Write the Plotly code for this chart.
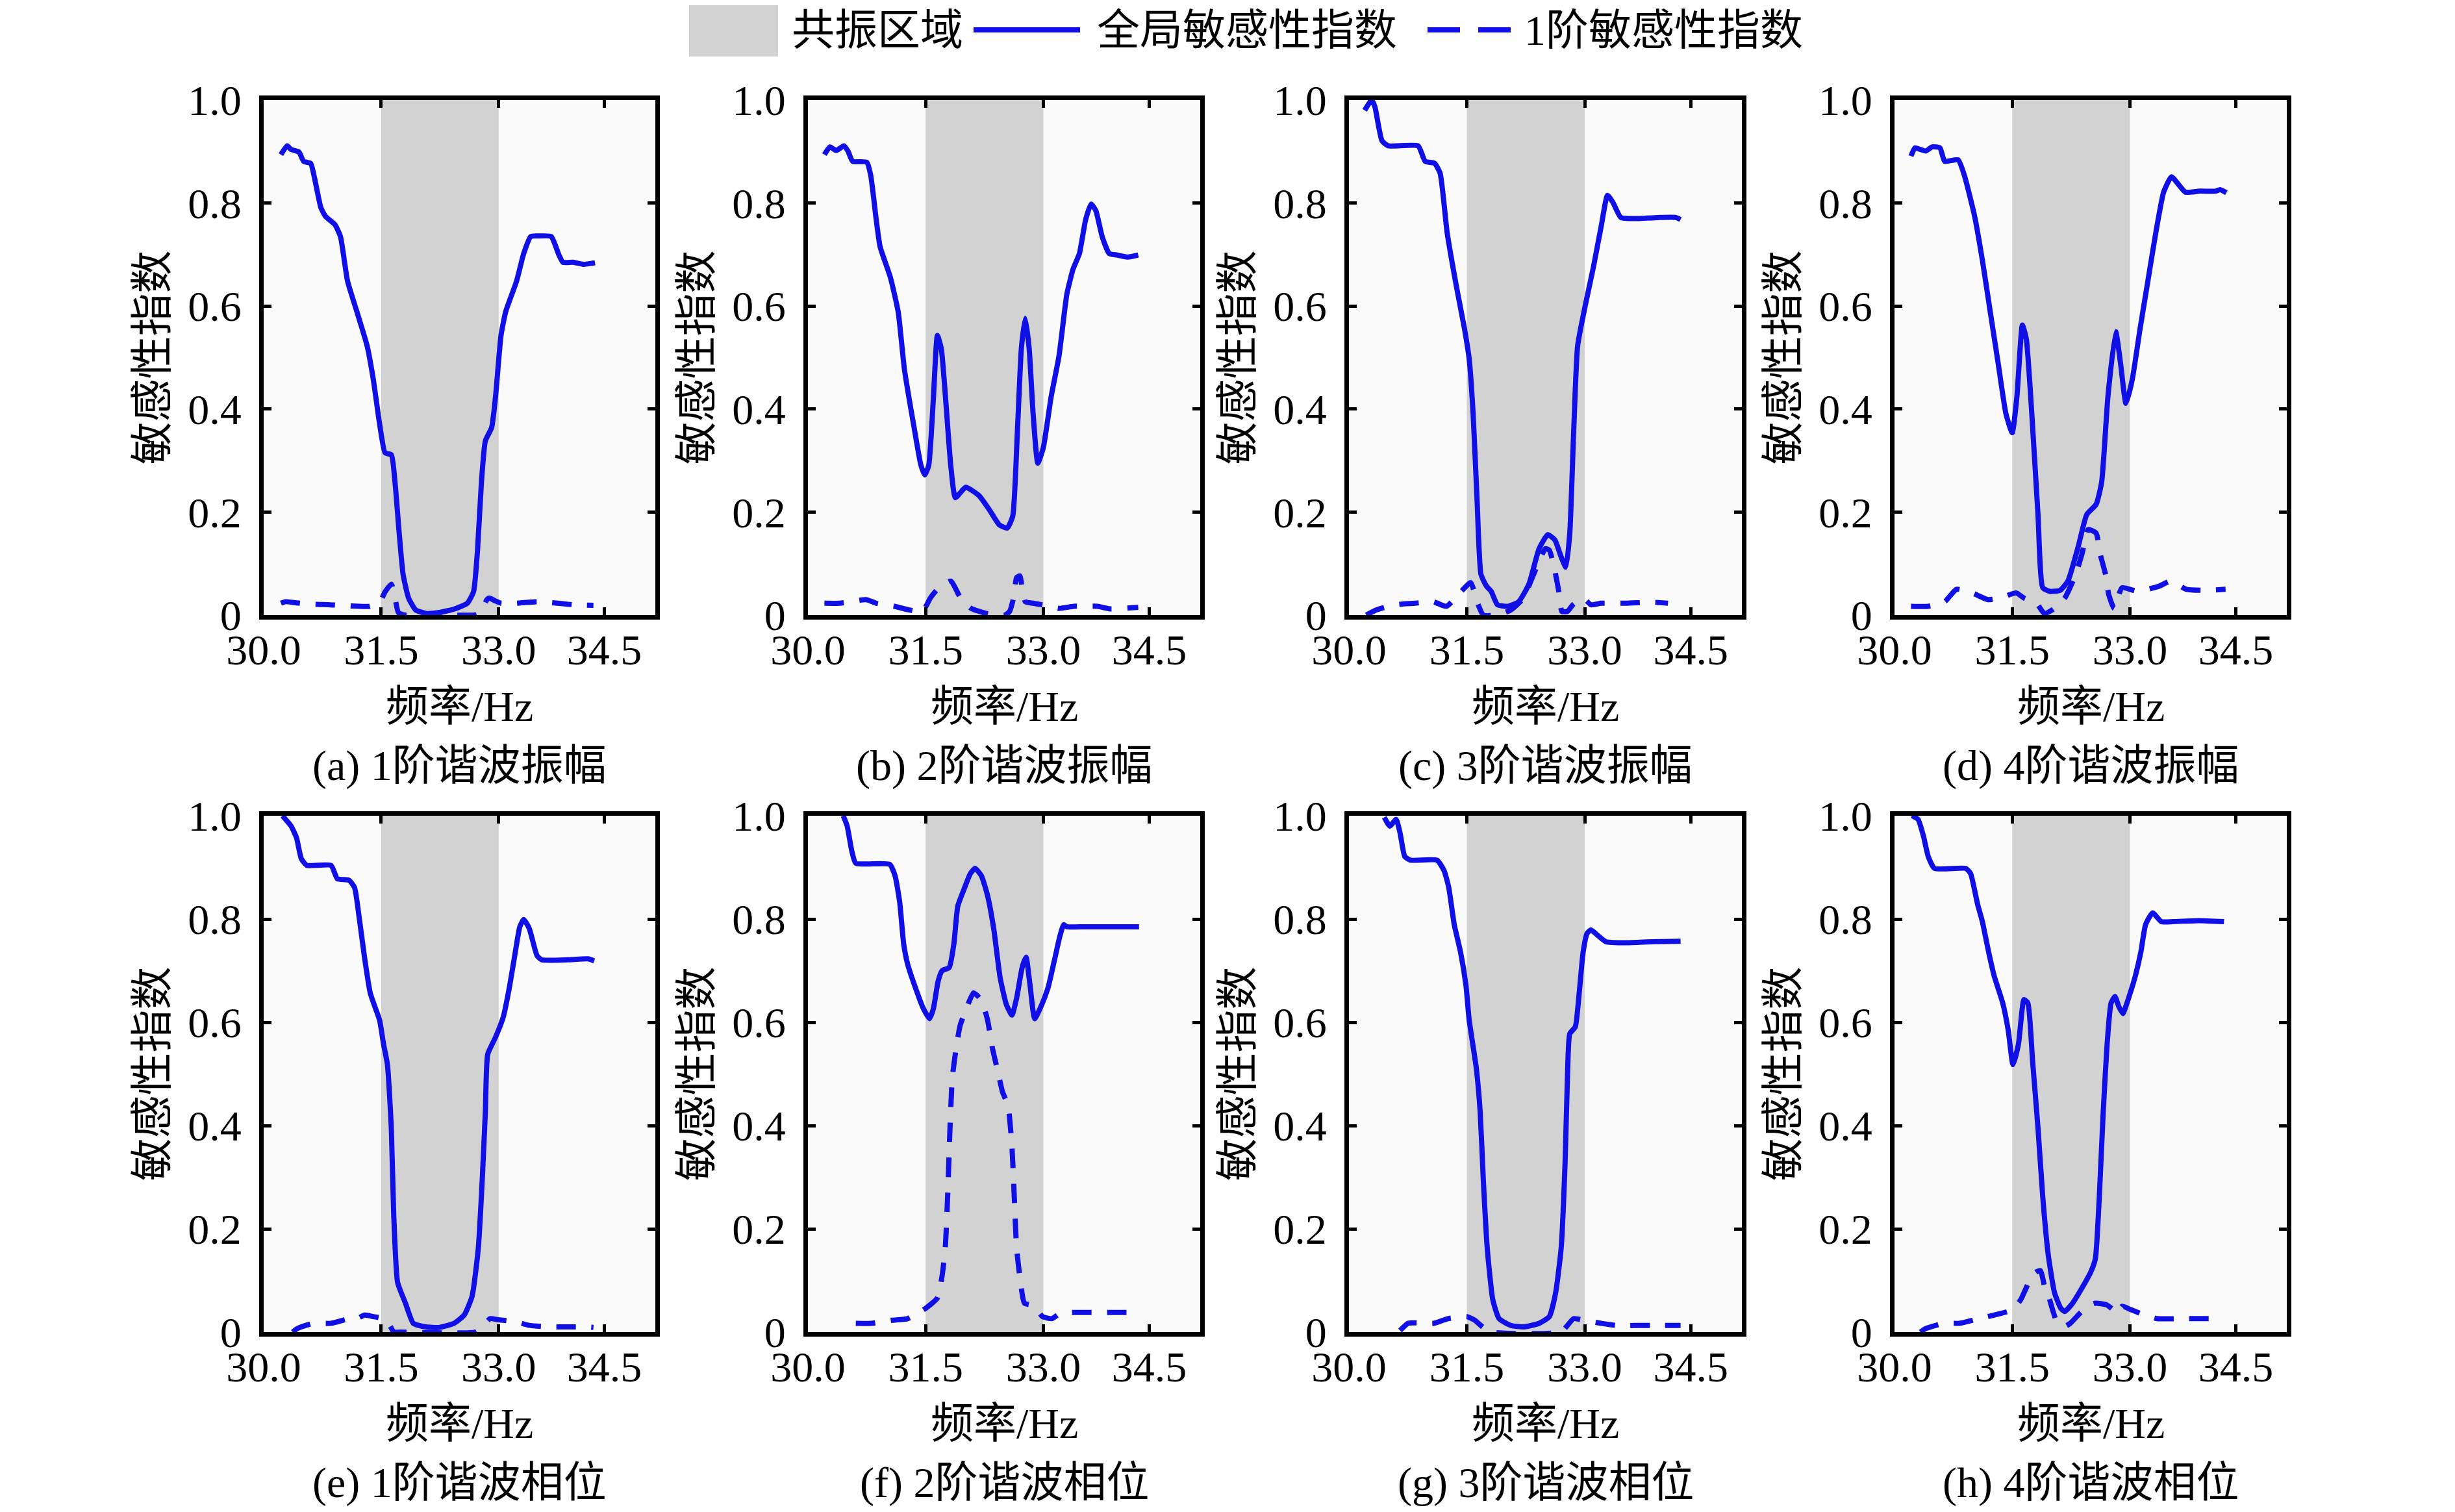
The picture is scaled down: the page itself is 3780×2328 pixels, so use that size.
import plotly.graph_objects as go

# resonance band (Hz)
RES_BAND = [31.5, 33.0]

# (a) 1st harmonic amplitude
FA_S = [30.22, 30.30, 30.35, 30.45, 30.51, 30.60, 30.65, 30.73, 30.79, 30.91, 30.98, 31.07, 31.19, 31.32, 31.40,
        31.48, 31.55, 31.63, 31.68, 31.73, 31.78, 31.85, 31.94, 32.08, 32.24, 32.44, 32.60, 32.68, 32.73, 32.78,
        32.83, 32.91, 32.96, 33.03, 33.09, 33.23, 33.32, 33.41, 33.51, 33.67, 33.77, 33.82, 33.95, 34.08, 34.23]
VA_S = [0.894, 0.911, 0.904, 0.899, 0.881, 0.877, 0.848, 0.791, 0.774, 0.758, 0.735, 0.649, 0.589, 0.523, 0.457,
        0.371, 0.315, 0.311, 0.252, 0.159, 0.079, 0.033, 0.010, 0.003, 0.005, 0.012, 0.023, 0.046, 0.126, 0.258,
        0.338, 0.364, 0.424, 0.543, 0.589, 0.649, 0.702, 0.735, 0.736, 0.735, 0.699, 0.685, 0.685, 0.681, 0.684]
FA_D = [30.22, 30.28, 30.40, 30.60, 30.85, 31.05, 31.35, 31.48, 31.55, 31.63, 31.68, 31.72, 31.80, 32.00, 32.40,
        32.70, 32.77, 32.85, 32.88, 32.95, 33.03, 33.23, 33.49, 33.82, 33.95, 34.21]
VA_D = [0.023, 0.026, 0.024, 0.021, 0.020, 0.018, 0.017, 0.025, 0.045, 0.060, 0.030, 0.005, 0.0, 0.0, 0.0,
        0.0, 0.005, 0.030, 0.033, 0.028, 0.023, 0.023, 0.026, 0.022, 0.020, 0.019]

# (b) 2nd harmonic amplitude
FB_S = [30.21, 30.28, 30.36, 30.46, 30.51, 30.57, 30.75, 30.80, 30.87, 30.92, 31.05, 31.15, 31.23, 31.36, 31.44,
        31.49, 31.54, 31.60, 31.65, 31.70, 31.82, 31.88, 32.01, 32.18, 32.31, 32.44, 32.54, 32.61, 32.67, 32.72,
        32.77, 32.82, 32.87, 32.93, 33.00, 33.10, 33.20, 33.30, 33.38, 33.46, 33.54, 33.61, 33.67, 33.75, 33.84,
        33.94, 34.08, 34.21]
VB_S = [0.894, 0.909, 0.902, 0.911, 0.901, 0.881, 0.879, 0.854, 0.768, 0.715, 0.656, 0.589, 0.477, 0.358, 0.291,
        0.272, 0.291, 0.424, 0.543, 0.517, 0.291, 0.228, 0.248, 0.232, 0.205, 0.175, 0.169, 0.192, 0.358, 0.517,
        0.576, 0.517, 0.391, 0.295, 0.325, 0.424, 0.503, 0.623, 0.672, 0.702, 0.768, 0.798, 0.785, 0.735, 0.702,
        0.699, 0.695, 0.699]
FB_D = [30.21, 30.41, 30.74, 30.87, 31.10, 31.29, 31.46, 31.56, 31.65, 31.82, 31.92, 31.98, 32.08, 32.28, 32.51,
        32.57, 32.62, 32.66, 32.70, 32.77, 32.87, 32.98, 33.20, 33.39, 33.69, 33.85, 34.21]
VB_D = [0.023, 0.023, 0.030, 0.023, 0.017, 0.010, 0.007, 0.033, 0.050, 0.066, 0.040, 0.026, 0.013, 0.003, 0.0,
        0.007, 0.033, 0.073, 0.076, 0.026, 0.023, 0.020, 0.013, 0.017, 0.017, 0.012, 0.015]

# (c) 3rd harmonic amplitude
FC_S = [30.20, 30.29, 30.33, 30.42, 30.50, 30.88, 30.97, 31.09, 31.16, 31.25, 31.37, 31.47, 31.53, 31.58, 31.63,
        31.68, 31.75, 31.81, 31.89, 32.02, 32.16, 32.29, 32.42, 32.53, 32.62, 32.70, 32.76, 32.81, 32.86, 32.91,
        33.01, 33.11, 33.21, 33.29, 33.36, 33.46, 33.70, 33.96, 34.16, 34.22]
VC_S = [0.980, 1.0, 0.987, 0.921, 0.911, 0.911, 0.881, 0.877, 0.858, 0.742, 0.636, 0.556, 0.497, 0.391, 0.225,
        0.079, 0.056, 0.046, 0.020, 0.017, 0.026, 0.060, 0.129, 0.156, 0.146, 0.113, 0.093, 0.159, 0.358, 0.523,
        0.603, 0.675, 0.755, 0.815, 0.801, 0.772, 0.770, 0.772, 0.772, 0.768]
FC_D = [30.22, 30.35, 30.58, 30.84, 31.07, 31.24, 31.43, 31.55, 31.63, 31.71, 31.89, 32.06, 32.22, 32.35, 32.50,
        32.55, 32.62, 32.67, 32.71, 32.78, 32.85, 32.98, 33.08, 33.21, 33.53, 33.86, 34.06]
VC_D = [0.0, 0.010, 0.020, 0.023, 0.026, 0.017, 0.046, 0.063, 0.026, 0.0, 0.0, 0.010, 0.033, 0.079, 0.129,
        0.126, 0.086, 0.046, 0.007, 0.007, 0.020, 0.033, 0.020, 0.023, 0.023, 0.025, 0.023]

# (d) 4th harmonic amplitude
FD_S = [30.21, 30.26, 30.33, 30.40, 30.48, 30.58, 30.64, 30.81, 30.89, 31.02, 31.12, 31.22, 31.32, 31.42, 31.50,
        31.56, 31.63, 31.68, 31.75, 31.83, 31.89, 31.98, 32.11, 32.21, 32.34, 32.45, 32.57, 32.64, 32.72, 32.82,
        32.88, 32.95, 33.03, 33.13, 33.23, 33.33, 33.43, 33.53, 33.61, 33.71, 33.89, 34.09, 34.15, 34.23]
VD_S = [0.891, 0.907, 0.904, 0.901, 0.909, 0.907, 0.881, 0.884, 0.854, 0.775, 0.689, 0.589, 0.490, 0.391, 0.354,
        0.424, 0.563, 0.536, 0.391, 0.192, 0.053, 0.046, 0.048, 0.066, 0.132, 0.195, 0.215, 0.258, 0.424, 0.550,
        0.490, 0.411, 0.457, 0.556, 0.649, 0.742, 0.821, 0.851, 0.838, 0.821, 0.823, 0.823, 0.826, 0.820]
FD_D = [30.21, 30.43, 30.64, 30.79, 30.99, 31.19, 31.35, 31.55, 31.65, 31.81, 31.91, 32.04, 32.17, 32.31, 32.39,
        32.47, 32.57, 32.62, 32.69, 32.73, 32.80, 32.90, 33.10, 33.37, 33.52, 33.72, 33.95, 34.22]
VD_D = [0.017, 0.017, 0.026, 0.050, 0.043, 0.030, 0.033, 0.043, 0.033, 0.023, 0.003, 0.013, 0.033, 0.079, 0.119,
        0.166, 0.159, 0.119, 0.079, 0.040, 0.013, 0.053, 0.046, 0.056, 0.066, 0.050, 0.048, 0.050]

# (e) 1st harmonic phase
FE_S = [30.24, 30.35, 30.42, 30.48, 30.55, 30.86, 30.94, 31.09, 31.16, 31.22, 31.29, 31.36, 31.42, 31.48, 31.53,
        31.58, 31.63, 31.66, 31.71, 31.81, 31.91, 32.07, 32.24, 32.43, 32.56, 32.66, 32.74, 32.79, 32.83, 32.86,
        32.96, 33.06, 33.14, 33.22, 33.27, 33.32, 33.39, 33.49, 33.55, 33.88, 34.14, 34.22]
VE_S = [1.0, 0.980, 0.957, 0.917, 0.904, 0.904, 0.878, 0.875, 0.861, 0.802, 0.723, 0.657, 0.630, 0.604, 0.558,
        0.518, 0.393, 0.228, 0.096, 0.056, 0.017, 0.010, 0.009, 0.017, 0.033, 0.069, 0.162, 0.294, 0.426, 0.538,
        0.571, 0.611, 0.670, 0.743, 0.785, 0.799, 0.782, 0.729, 0.721, 0.721, 0.723, 0.719]
FE_D = [30.37, 30.43, 30.63, 30.86, 31.09, 31.19, 31.29, 31.40, 31.53, 31.61, 31.66, 31.75, 32.70, 32.79, 32.89,
        32.99, 33.22, 33.39, 33.65, 33.88, 34.11, 34.21]
VE_D = [0.0, 0.007, 0.017, 0.017, 0.026, 0.026, 0.033, 0.030, 0.026, 0.013, 0.0, 0.0, 0.0, 0.010, 0.026,
        0.024, 0.020, 0.013, 0.010, 0.010, 0.010, 0.009]

# (f) 2nd harmonic phase
FF_S = [30.45, 30.50, 30.56, 30.61, 31.04, 31.11, 31.17, 31.22, 31.27, 31.37, 31.47, 31.55, 31.60, 31.66, 31.71,
        31.80, 31.86, 31.91, 31.99, 32.07, 32.13, 32.21, 32.29, 32.37, 32.45, 32.53, 32.60, 32.66, 32.73, 32.78,
        32.83, 32.89, 32.98, 33.06, 33.14, 33.21, 33.26, 33.30, 33.53, 33.86, 34.22]
VF_S = [1.0, 0.980, 0.931, 0.908, 0.906, 0.884, 0.832, 0.752, 0.713, 0.667, 0.627, 0.607, 0.627, 0.680, 0.700,
        0.706, 0.752, 0.825, 0.858, 0.888, 0.898, 0.884, 0.845, 0.779, 0.686, 0.634, 0.614, 0.647, 0.706, 0.726,
        0.673, 0.607, 0.634, 0.667, 0.719, 0.766, 0.789, 0.785, 0.785, 0.785, 0.785]
FF_D = [30.61, 30.81, 31.07, 31.27, 31.50, 31.65, 31.71, 31.75, 31.78, 31.81, 31.84, 31.89, 31.94, 32.02, 32.11,
        32.17, 32.22, 32.29, 32.35, 32.42, 32.48, 32.55, 32.60, 32.63, 32.66, 32.71, 32.76, 32.88, 32.99, 33.11,
        33.21, 33.30, 33.70, 34.22]
VF_D = [0.017, 0.017, 0.023, 0.026, 0.046, 0.066, 0.109, 0.162, 0.261, 0.393, 0.492, 0.551, 0.594, 0.627, 0.657,
        0.650, 0.640, 0.604, 0.551, 0.505, 0.465, 0.439, 0.360, 0.261, 0.162, 0.096, 0.056, 0.051, 0.030, 0.026,
        0.036, 0.038, 0.038, 0.038]

# (g) 3rd harmonic phase
FG_S = [30.45, 30.52, 30.60, 30.65, 30.71, 30.78, 31.12, 31.21, 31.27, 31.34, 31.42, 31.49, 31.53, 31.62, 31.67,
        31.71, 31.76, 31.83, 31.91, 32.06, 32.22, 32.42, 32.55, 32.63, 32.70, 32.75, 32.78, 32.81, 32.88, 32.93,
        32.98, 33.03, 33.08, 33.16, 33.27, 33.53, 33.86, 34.22]
VG_S = [0.997, 0.980, 0.993, 0.967, 0.921, 0.914, 0.914, 0.894, 0.861, 0.789, 0.736, 0.670, 0.604, 0.512, 0.426,
        0.294, 0.162, 0.063, 0.026, 0.013, 0.010, 0.017, 0.030, 0.076, 0.162, 0.327, 0.492, 0.578, 0.591, 0.657,
        0.736, 0.772, 0.779, 0.769, 0.756, 0.754, 0.756, 0.757]
FG_D = [30.65, 30.75, 30.81, 31.08, 31.26, 31.50, 31.60, 31.70, 31.80, 32.70, 32.78, 32.86, 32.98, 33.21, 33.40,
        33.86, 34.22]
VG_D = [0.003, 0.017, 0.018, 0.017, 0.026, 0.030, 0.023, 0.010, 0.0, 0.0, 0.013, 0.026, 0.023, 0.017, 0.013,
        0.013, 0.013]

# (h) 4th harmonic phase
FH_S = [30.22, 30.30, 30.37, 30.43, 30.51, 30.91, 30.97, 31.06, 31.12, 31.20, 31.27, 31.38, 31.45, 31.51, 31.58,
        31.65, 31.70, 31.76, 31.83, 31.89, 31.96, 32.04, 32.12, 32.17, 32.27, 32.38, 32.50, 32.56, 32.61, 32.66,
        32.71, 32.76, 32.81, 32.86, 32.91, 32.99, 33.07, 33.14, 33.20, 33.29, 33.40, 33.55, 33.88, 34.20]
VH_S = [1.0, 0.993, 0.960, 0.921, 0.898, 0.898, 0.888, 0.828, 0.795, 0.736, 0.690, 0.637, 0.584, 0.518, 0.558,
        0.644, 0.637, 0.525, 0.393, 0.261, 0.149, 0.076, 0.046, 0.040, 0.056, 0.083, 0.116, 0.142, 0.261, 0.426,
        0.558, 0.637, 0.650, 0.630, 0.617, 0.650, 0.690, 0.736, 0.789, 0.812, 0.795, 0.795, 0.797, 0.795]
FH_D = [30.33, 30.40, 30.63, 30.83, 31.07, 31.27, 31.50, 31.61, 31.71, 31.80, 31.86, 31.92, 31.97, 32.07, 32.17,
        32.24, 32.36, 32.46, 32.56, 32.70, 32.79, 32.84, 32.90, 33.02, 33.19, 33.35, 33.61, 34.20]
VH_D = [0.0, 0.007, 0.017, 0.017, 0.026, 0.033, 0.043, 0.063, 0.096, 0.116, 0.119, 0.083, 0.066, 0.020, 0.011,
        0.017, 0.036, 0.050, 0.056, 0.053, 0.043, 0.036, 0.050, 0.043, 0.033, 0.026, 0.026, 0.026]

CAPTIONS = ['(a) 1阶谐波振幅', '(b) 2阶谐波振幅', '(c) 3阶谐波振幅', '(d) 4阶谐波振幅',
            '(e) 1阶谐波相位', '(f) 2阶谐波相位', '(g) 3阶谐波相位', '(h) 4阶谐波相位']
X_TICKS = [30.0, 31.5, 33.0, 34.35]
X_TICKTEXT = ['30.0', '31.5', '33.0', '34.5']
Y_TICKS = [0, 0.2, 0.4, 0.6, 0.8, 1.0]
Y_TICKTEXT = ['0', '0.2', '0.4', '0.6', '0.8', '1.0']
LEGEND_NAMES = ['共振区域', '全局敏感性指数', '1阶敏感性指数']

panels = [
    (FA_S, VA_S, FA_D, VA_D), (FB_S, VB_S, FB_D, VB_D), (FC_S, VC_S, FC_D, VC_D), (FD_S, VD_S, FD_D, VD_D),
    (FE_S, VE_S, FE_D, VE_D), (FF_S, VF_S, FF_D, VF_D), (FG_S, VG_S, FG_D, VG_D), (FH_S, VH_S, FH_D, VH_D),
]

W, H = 3780, 2328
FONT = 'Liberation Serif, Noto Sans CJK SC, serif'
FS = 66
BLUE = '#1010e6'
GRAY = '#d2d2d2'
DASH = '30px,24px'
LW = 8
SHIFT = 8  # page body margin offsets everything by this much


def px(x):
    return (x - SHIFT) / W


def py(y):
    return 1 - (y - SHIFT) / H


# panel boxes in pixels of the target picture
col_px = [(406, 1009), (1244, 1848), (2077, 2682), (2917, 3521)]
row_px = [(154, 947), (1256, 2051)]
xtitle_px = [1087, 2191]
caption_px = [1179, 2283]

fig = go.Figure()
layout = {}
annotations = []
shapes = []

for i, (fs, vs, fd, vd) in enumerate(panels):
    row, col = divmod(i, 4)
    n = '' if i == 0 else str(i + 1)
    xa, ya = 'x' + n, 'y' + n
    l, r = col_px[col]
    t, b = row_px[row]

    fig.add_trace(go.Scatter(x=fs, y=vs, xaxis=xa, yaxis=ya, mode='lines',
                             line=dict(color=BLUE, width=LW, shape='spline', smoothing=0.5),
                             showlegend=False, hoverinfo='x+y'))
    fig.add_trace(go.Scatter(x=fd, y=vd, xaxis=xa, yaxis=ya, mode='lines',
                             line=dict(color=BLUE, width=LW, dash=DASH, shape='spline', smoothing=0.5),
                             showlegend=False, hoverinfo='x+y'))

    shapes.append(dict(type='rect', xref=xa, yref=ya, x0=RES_BAND[0], x1=RES_BAND[1], y0=0, y1=1,
                       fillcolor=GRAY, line=dict(width=0), layer='below'))

    common = dict(showline=True, linecolor='black', linewidth=7, mirror='ticks',
                  ticks='inside', ticklen=12, tickwidth=5, tickcolor='black', automargin=False,
                  showgrid=False, zeroline=False, tickfont=dict(family=FONT, size=FS, color='black'))
    layout['xaxis' + n] = dict(domain=[px(l), px(r)], range=[30, 35], anchor=ya,
                               tickvals=X_TICKS, ticktext=X_TICKTEXT, ticklabelstandoff=-10, **common)
    layout['yaxis' + n] = dict(domain=[py(b), py(t)], range=[0, 1], anchor=xa,
                               tickvals=Y_TICKS, ticktext=Y_TICKTEXT, ticklabelstandoff=14, **common)

    xc = px((l + r) / 2)
    annotations.append(dict(text='敏感性指数', x=px(l - 172), y=py((t + b) / 2), xref='paper', yref='paper',
                            textangle=-90, showarrow=False, xanchor='center', yanchor='middle',
                            font=dict(family=FONT, size=FS, color='black')))
    annotations.append(dict(text='频率/Hz', x=xc, y=py(xtitle_px[row]), xref='paper', yref='paper',
                            showarrow=False, xanchor='center', yanchor='middle',
                            font=dict(family=FONT, size=FS, color='black')))
    annotations.append(dict(text=CAPTIONS[i], x=xc, y=py(caption_px[row]), xref='paper', yref='paper',
                            showarrow=False, xanchor='center', yanchor='middle',
                            font=dict(family=FONT, size=FS, color='black')))

# legend drawn by hand across the top
ly = py(46)
shapes.append(dict(type='rect', xref='paper', yref='paper', x0=px(1061), x1=px(1198),
                   y0=py(87), y1=py(8), fillcolor=GRAY, line=dict(width=0)))
shapes.append(dict(type='line', xref='paper', yref='paper', x0=px(1499), x1=px(1663), y0=ly, y1=ly,
                   line=dict(color=BLUE, width=LW)))
shapes.append(dict(type='line', xref='paper', yref='paper', x0=px(2198), x1=px(2326), y0=ly, y1=ly,
                   line=dict(color=BLUE, width=LW, dash='50px,28px')))
for name, xpos in zip(LEGEND_NAMES, [1217, 1687, 2345]):
    annotations.append(dict(text=name, x=px(xpos), y=ly, xref='paper', yref='paper', showarrow=False,
                            xanchor='left', yanchor='middle', font=dict(family=FONT, size=FS, color='black')))

fig.update_layout(**layout)
fig.update_layout(width=W, height=H, margin=dict(l=0, r=0, t=0, b=0, pad=0, autoexpand=False),
                  paper_bgcolor='white', plot_bgcolor='#fafafa',
                  shapes=shapes, annotations=annotations, showlegend=False,
                  font=dict(family=FONT, size=FS, color='black'))

fig.write_html("out.html")
